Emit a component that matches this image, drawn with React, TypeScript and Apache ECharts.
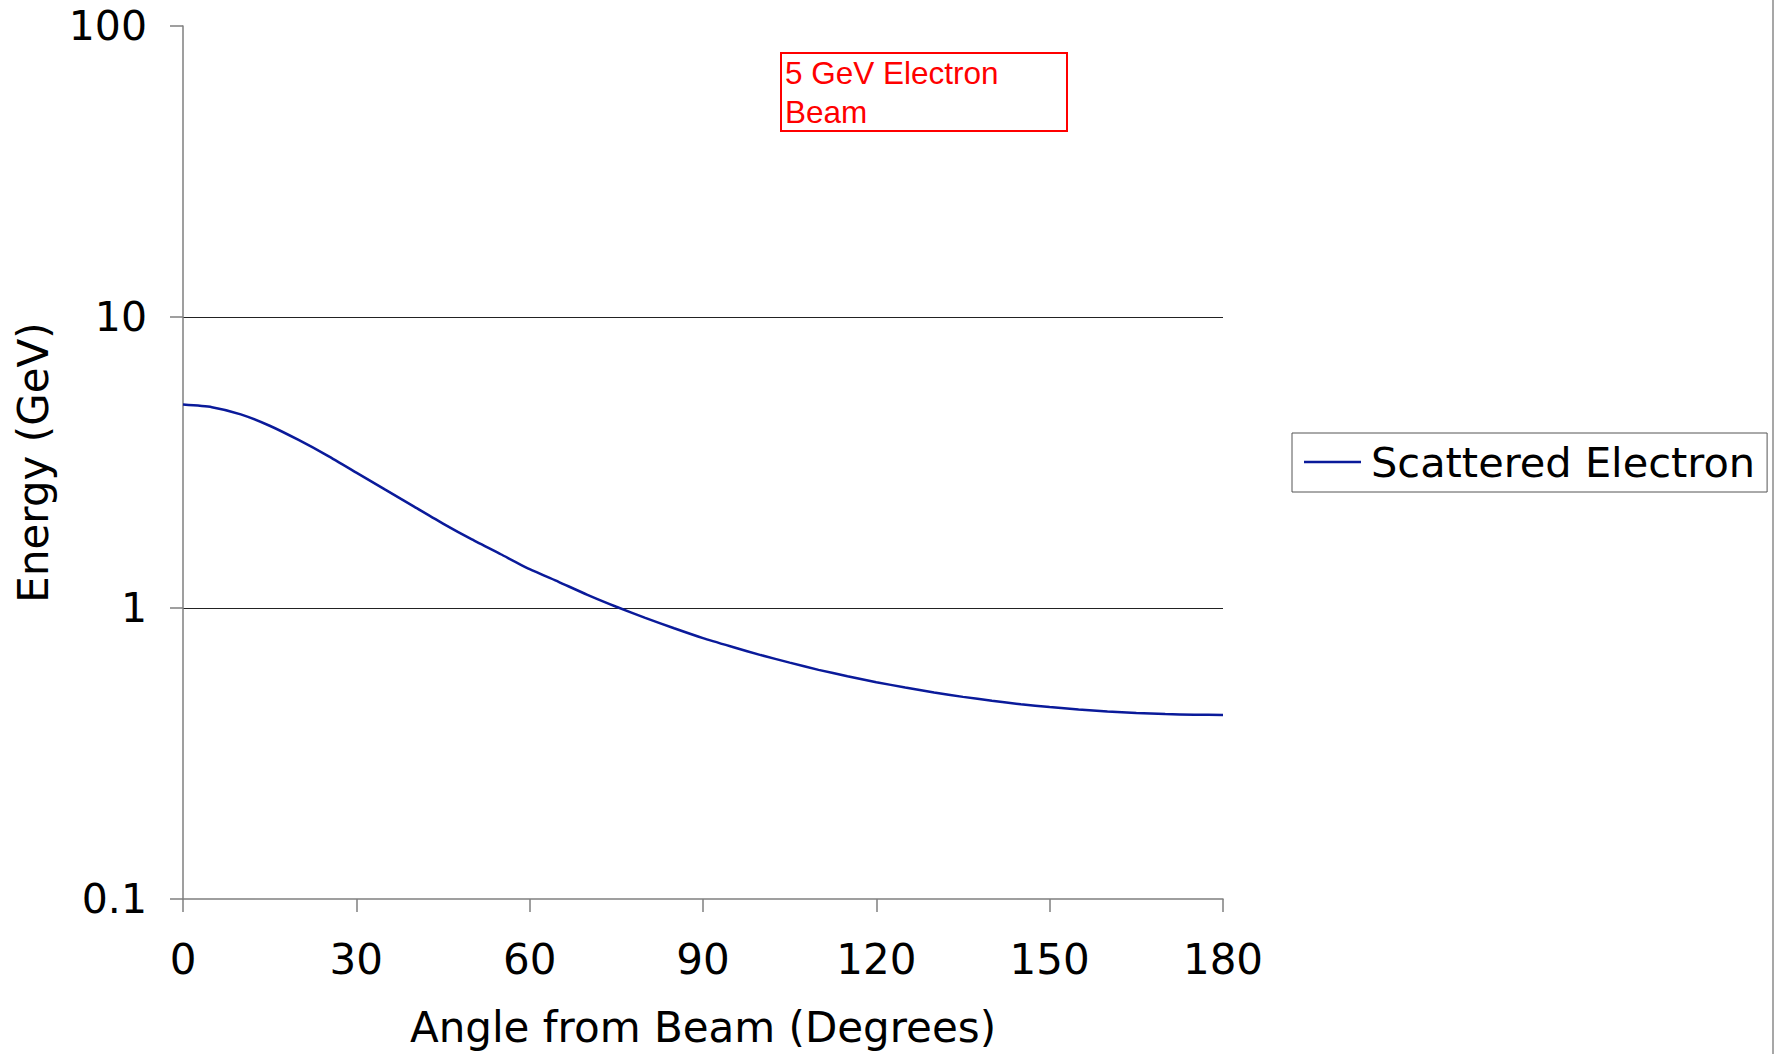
import React, { useEffect, useRef } from "react";
import * as echarts from "echarts";

const angles: number[] = [
  0, 5, 10, 15, 20, 25, 30, 35, 40, 45, 50, 55, 60, 65, 70, 75, 80, 85, 90,
  95, 100, 105, 110, 115, 120, 125, 130, 135, 140, 145, 150, 155, 160, 165,
  170, 175, 180,
];
const energies: number[] = [
  5.0, 4.9, 4.63, 4.23, 3.78, 3.34, 2.92, 2.55, 2.23, 1.95, 1.72, 1.53, 1.36,
  1.23, 1.11, 1.01, 0.925, 0.852, 0.788, 0.736, 0.689, 0.649, 0.613, 0.583,
  0.556, 0.533, 0.512, 0.495, 0.48, 0.467, 0.457, 0.448, 0.441, 0.436, 0.432,
  0.43, 0.429,
];
const seriesName = "Scattered Electron";
const xTitle = "Angle from Beam (Degrees)";
const yTitle = "Energy (GeV)";
const noteLines: string[] = ["5 GeV Electron", "Beam"];

export default function App() {
  const ref = useRef<HTMLDivElement>(null);
  useEffect(() => {
    if (!ref.current) return;
    const chart = echarts.init(ref.current, null, { renderer: "svg" });
    const font = "DejaVu Sans";
    chart.setOption({
      animation: false,
      backgroundColor: "#ffffff",
      grid: { left: 183, right: 552, top: 26, bottom: 155 },
      xAxis: {
        type: "value",
        min: 0,
        max: 180,
        interval: 30,
        name: xTitle,
        nameLocation: "middle",
        nameGap: 107,
        nameTextStyle: { fontFamily: font, fontSize: 42, color: "#000" },
        axisLine: { show: true, lineStyle: { color: "#7f7f7f", width: 1.5 } },
        axisTick: { show: true, inside: false, length: 13, lineStyle: { color: "#7f7f7f", width: 1.5 } },
        axisLabel: { fontFamily: font, fontSize: 42, color: "#000", margin: 39 },
        splitLine: { show: false },
      },
      yAxis: {
        type: "log",
        logBase: 10,
        min: 0.1,
        max: 100,
        name: yTitle,
        nameLocation: "middle",
        nameRotate: 90,
        nameGap: 129,
        nameTextStyle: { fontFamily: font, fontSize: 42, color: "#000" },
        axisLine: { show: true, onZero: false, lineStyle: { color: "#7f7f7f", width: 1.5 } },
        axisTick: { show: true, inside: false, length: 13, lineStyle: { color: "#7f7f7f", width: 1.5 } },
        axisLabel: {
          fontFamily: font,
          fontSize: 41,
          color: "#000",
          margin: 36,
          formatter: (v: number) => String(Math.round(v * 10) / 10),
        },
        splitLine: {
          show: true,
          showMinLine: false,
          showMaxLine: false,
          lineStyle: { color: "#222222", width: 1 },
        },
      },
      legend: {
        show: true,
        left: 1292,
        top: 433,
        orient: "vertical",
        padding: [8, 12, 9, 12],
        borderColor: "#555555",
        borderWidth: 1,
        icon: "rect",
        itemWidth: 57,
        itemHeight: 2.5,
        textStyle: {
          fontFamily: font,
          fontSize: 41.5,
          color: "#000",
          lineHeight: 41,
          padding: [0, 0, 0, 5],
        },
        data: [seriesName],
      },
      series: [
        {
          name: seriesName,
          type: "line",
          symbol: "none",
          showSymbol: false,
          smooth: 0.2,
          lineStyle: { color: "#0a1a9a", width: 2.5 },
          itemStyle: { color: "#0a1a9a" },
          data: angles.map((a, i) => [a, energies[i]]),
        },
      ],
      graphic: [
        {
          type: "rect",
          shape: { x: 781, y: 53, width: 286, height: 78 },
          style: { fill: "none", stroke: "#ff0000", lineWidth: 2 },
          z: 10,
        },
        {
          type: "text",
          x: 785,
          y: 53,
          style: {
            text: noteLines.join("\n"),
            fontFamily: "Liberation Sans",
            fontSize: 31.5,
            lineHeight: 39,
            fill: "#ff0000",
            verticalAlign: "top",
          },
          z: 11,
        },
        {
          type: "line",
          shape: { x1: 1773, y1: 0, x2: 1773, y2: 1054 },
          style: { stroke: "#8a8a8a", lineWidth: 1.5 },
        },
      ],
    });
    return () => chart.dispose();
  }, []);
  return (
    <div
      ref={ref}
      style={{ position: "fixed", left: 0, top: 0, width: 1775, height: 1054, background: "#fff" }}
    />
  );
}
